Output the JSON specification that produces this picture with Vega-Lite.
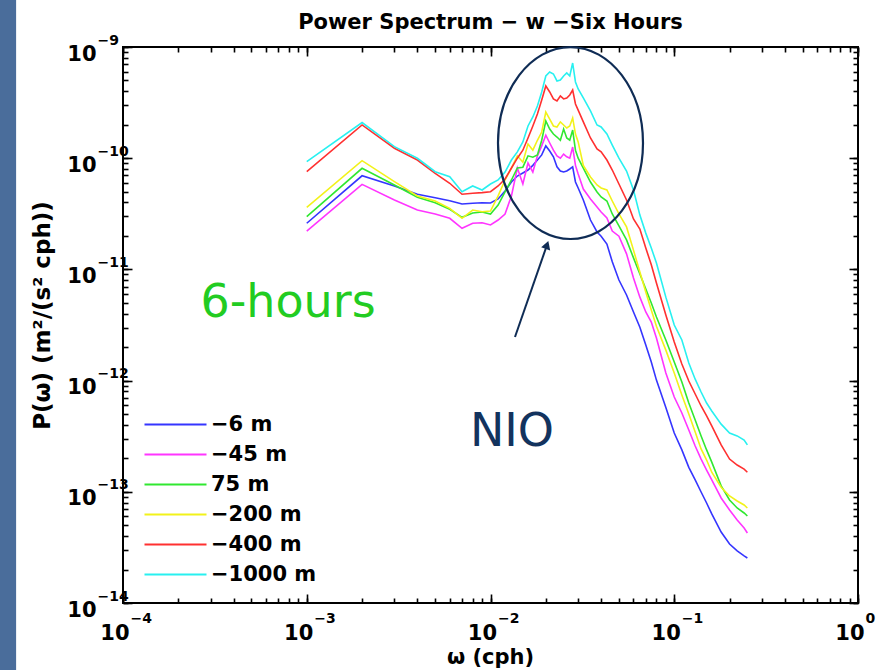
{
  "$schema": "https://vega.github.io/schema/vega-lite/v6.json",
  "width": 735,
  "height": 556,
  "autosize": {"type": "none"},
  "padding": {"left": 123, "top": 47, "right": 22, "bottom": 67},
  "background": "white",
  "config": {
    "view": {"stroke": "black", "strokeWidth": 2},
    "font": "DejaVu Sans",
    "axis": {"grid": false, "domain": false, "tickColor": "black", "tickWidth": 1.6, "labelColor": "black", "labelFont": "DejaVu Sans", "labelFontWeight": "bold", "labelOverlap": false, "labelFlush": false, "labelBound": false, "titleColor": "black", "titleFont": "DejaVu Sans"}
  },
  "title": {"text": "Power Spectrum − w −Six Hours", "fontSize": 21, "fontWeight": "bold", "font": "DejaVu Sans", "color": "black", "anchor": "middle", "offset": 14, "dy": 47},
  "datasets": {
    "spec": [
      {"f":0.001,"p":2.60e-11,"s":"−6 m"},{"f":0.002,"p":6.95e-11,"s":"−6 m"},{"f":0.003,"p":5.63e-11,"s":"−6 m"},{"f":0.004,"p":4.74e-11,"s":"−6 m"},{"f":0.005,"p":4.41e-11,"s":"−6 m"},{"f":0.006,"p":4.15e-11,"s":"−6 m"},{"f":0.007,"p":3.87e-11,"s":"−6 m"},{"f":0.008,"p":3.93e-11,"s":"−6 m"},{"f":0.009,"p":3.98e-11,"s":"−6 m"},{"f":0.010,"p":3.95e-11,"s":"−6 m"},
      {"f":0.011,"p":4.30e-11,"s":"−6 m"},{"f":0.012,"p":5.07e-11,"s":"−6 m"},{"f":0.013,"p":6.11e-11,"s":"−6 m"},{"f":0.014,"p":6.91e-11,"s":"−6 m"},{"f":0.015,"p":7.36e-11,"s":"−6 m"},{"f":0.016,"p":7.83e-11,"s":"−6 m"},{"f":0.017,"p":8.62e-11,"s":"−6 m"},{"f":0.018,"p":9.63e-11,"s":"−6 m"},{"f":0.019,"p":1.07e-10,"s":"−6 m"},{"f":0.020,"p":1.29e-10,"s":"−6 m"},
      {"f":0.021,"p":1.16e-10,"s":"−6 m"},{"f":0.022,"p":1.03e-10,"s":"−6 m"},{"f":0.023,"p":8.37e-11,"s":"−6 m"},{"f":0.024,"p":7.67e-11,"s":"−6 m"},{"f":0.025,"p":7.51e-11,"s":"−6 m"},{"f":0.026,"p":7.67e-11,"s":"−6 m"},{"f":0.027,"p":8.00e-11,"s":"−6 m"},{"f":0.028,"p":8.37e-11,"s":"−6 m"},{"f":0.029,"p":6.11e-11,"s":"−6 m"},{"f":0.030,"p":5.40e-11,"s":"−6 m"},
      {"f":0.032,"p":4.21e-11,"s":"−6 m"},{"f":0.035,"p":2.78e-11,"s":"−6 m"},{"f":0.038,"p":2.17e-11,"s":"−6 m"},{"f":0.040,"p":1.99e-11,"s":"−6 m"},{"f":0.043,"p":1.69e-11,"s":"−6 m"},{"f":0.046,"p":1.17e-11,"s":"−6 m"},{"f":0.050,"p":8.03e-12,"s":"−6 m"},{"f":0.055,"p":5.89e-12,"s":"−6 m"},{"f":0.060,"p":4.14e-12,"s":"−6 m"},{"f":0.065,"p":3.02e-12,"s":"−6 m"},
      {"f":0.070,"p":2.09e-12,"s":"−6 m"},{"f":0.075,"p":1.47e-12,"s":"−6 m"},{"f":0.080,"p":1.01e-12,"s":"−6 m"},{"f":0.090,"p":5.74e-13,"s":"−6 m"},{"f":0.100,"p":3.38e-13,"s":"−6 m"},{"f":0.110,"p":2.38e-13,"s":"−6 m"},{"f":0.120,"p":1.66e-13,"s":"−6 m"},{"f":0.130,"p":1.28e-13,"s":"−6 m"},{"f":0.140,"p":9.96e-14,"s":"−6 m"},{"f":0.150,"p":7.93e-14,"s":"−6 m"},
      {"f":0.160,"p":6.32e-14,"s":"−6 m"},{"f":0.180,"p":4.35e-14,"s":"−6 m"},{"f":0.200,"p":3.39e-14,"s":"−6 m"},{"f":0.220,"p":2.94e-14,"s":"−6 m"},{"f":0.240,"p":2.65e-14,"s":"−6 m"},{"f":0.250,"p":2.54e-14,"s":"−6 m"},

      {"f":0.001,"p":2.21e-11,"s":"−45 m"},{"f":0.002,"p":5.82e-11,"s":"−45 m"},{"f":0.003,"p":4.21e-11,"s":"−45 m"},{"f":0.004,"p":3.42e-11,"s":"−45 m"},{"f":0.005,"p":3.15e-11,"s":"−45 m"},{"f":0.006,"p":2.88e-11,"s":"−45 m"},{"f":0.007,"p":2.34e-11,"s":"−45 m"},{"f":0.008,"p":2.60e-11,"s":"−45 m"},{"f":0.009,"p":2.63e-11,"s":"−45 m"},{"f":0.010,"p":2.51e-11,"s":"−45 m"},
      {"f":0.011,"p":2.78e-11,"s":"−45 m"},{"f":0.012,"p":3.15e-11,"s":"−45 m"},{"f":0.013,"p":4.58e-11,"s":"−45 m"},{"f":0.014,"p":8.16e-11,"s":"−45 m"},{"f":0.015,"p":5.86e-11,"s":"−45 m"},{"f":0.016,"p":9.05e-11,"s":"−45 m"},{"f":0.017,"p":7.51e-11,"s":"−45 m"},{"f":0.018,"p":1.05e-10,"s":"−45 m"},{"f":0.019,"p":1.29e-10,"s":"−45 m"},{"f":0.020,"p":1.61e-10,"s":"−45 m"},
      {"f":0.021,"p":1.37e-10,"s":"−45 m"},{"f":0.022,"p":1.18e-10,"s":"−45 m"},{"f":0.023,"p":1.05e-10,"s":"−45 m"},{"f":0.024,"p":1.00e-10,"s":"−45 m"},{"f":0.025,"p":1.09e-10,"s":"−45 m"},{"f":0.026,"p":1.03e-10,"s":"−45 m"},{"f":0.027,"p":1.00e-10,"s":"−45 m"},{"f":0.028,"p":1.26e-10,"s":"−45 m"},{"f":0.029,"p":8.62e-11,"s":"−45 m"},{"f":0.030,"p":7.21e-11,"s":"−45 m"},
      {"f":0.032,"p":5.28e-11,"s":"−45 m"},{"f":0.035,"p":4.30e-11,"s":"−45 m"},{"f":0.038,"p":3.64e-11,"s":"−45 m"},{"f":0.040,"p":3.28e-11,"s":"−45 m"},{"f":0.043,"p":2.90e-11,"s":"−45 m"},{"f":0.046,"p":2.21e-11,"s":"−45 m"},{"f":0.050,"p":1.99e-11,"s":"−45 m"},{"f":0.055,"p":1.38e-11,"s":"−45 m"},{"f":0.060,"p":8.37e-12,"s":"−45 m"},{"f":0.065,"p":5.63e-12,"s":"−45 m"},
      {"f":0.070,"p":4.14e-12,"s":"−45 m"},{"f":0.075,"p":3.36e-12,"s":"−45 m"},{"f":0.080,"p":2.42e-12,"s":"−45 m"},{"f":0.090,"p":1.17e-12,"s":"−45 m"},{"f":0.100,"p":7.12e-13,"s":"−45 m"},{"f":0.110,"p":5.11e-13,"s":"−45 m"},{"f":0.120,"p":3.60e-13,"s":"−45 m"},{"f":0.130,"p":2.58e-13,"s":"−45 m"},{"f":0.140,"p":1.97e-13,"s":"−45 m"},{"f":0.150,"p":1.57e-13,"s":"−45 m"},
      {"f":0.160,"p":1.28e-13,"s":"−45 m"},{"f":0.180,"p":8.80e-14,"s":"−45 m"},{"f":0.200,"p":6.86e-14,"s":"−45 m"},{"f":0.220,"p":5.58e-14,"s":"−45 m"},{"f":0.240,"p":4.73e-14,"s":"−45 m"},{"f":0.250,"p":4.26e-14,"s":"−45 m"},

      {"f":0.001,"p":2.98e-11,"s":"75 m"},{"f":0.002,"p":8.11e-11,"s":"75 m"},{"f":0.003,"p":5.74e-11,"s":"75 m"},{"f":0.004,"p":4.45e-11,"s":"75 m"},{"f":0.005,"p":3.98e-11,"s":"75 m"},{"f":0.006,"p":3.47e-11,"s":"75 m"},{"f":0.007,"p":2.94e-11,"s":"75 m"},{"f":0.008,"p":3.21e-11,"s":"75 m"},{"f":0.009,"p":3.28e-11,"s":"75 m"},{"f":0.010,"p":3.15e-11,"s":"75 m"},
      {"f":0.011,"p":3.79e-11,"s":"75 m"},{"f":0.012,"p":4.97e-11,"s":"75 m"},{"f":0.013,"p":6.37e-11,"s":"75 m"},{"f":0.014,"p":8.16e-11,"s":"75 m"},{"f":0.015,"p":8.30e-11,"s":"75 m"},{"f":0.016,"p":1.05e-10,"s":"75 m"},{"f":0.017,"p":1.02e-10,"s":"75 m"},{"f":0.018,"p":1.07e-10,"s":"75 m"},{"f":0.019,"p":1.45e-10,"s":"75 m"},{"f":0.020,"p":2.16e-10,"s":"75 m"},
      {"f":0.021,"p":1.83e-10,"s":"75 m"},{"f":0.022,"p":1.65e-10,"s":"75 m"},{"f":0.023,"p":1.55e-10,"s":"75 m"},{"f":0.024,"p":1.45e-10,"s":"75 m"},{"f":0.025,"p":1.83e-10,"s":"75 m"},{"f":0.026,"p":1.52e-10,"s":"75 m"},{"f":0.027,"p":1.45e-10,"s":"75 m"},{"f":0.028,"p":1.79e-10,"s":"75 m"},{"f":0.029,"p":1.18e-10,"s":"75 m"},{"f":0.030,"p":1.00e-10,"s":"75 m"},
      {"f":0.032,"p":8.16e-11,"s":"75 m"},{"f":0.035,"p":6.11e-11,"s":"75 m"},{"f":0.038,"p":4.97e-11,"s":"75 m"},{"f":0.040,"p":4.48e-11,"s":"75 m"},{"f":0.043,"p":4.12e-11,"s":"75 m"},{"f":0.046,"p":3.15e-11,"s":"75 m"},{"f":0.050,"p":2.46e-11,"s":"75 m"},{"f":0.055,"p":1.84e-11,"s":"75 m"},{"f":0.060,"p":1.27e-11,"s":"75 m"},{"f":0.065,"p":9.09e-12,"s":"75 m"},
      {"f":0.070,"p":6.66e-12,"s":"75 m"},{"f":0.075,"p":4.99e-12,"s":"75 m"},{"f":0.080,"p":3.73e-12,"s":"75 m"},{"f":0.090,"p":2.32e-12,"s":"75 m"},{"f":0.100,"p":1.47e-12,"s":"75 m"},{"f":0.110,"p":9.71e-13,"s":"75 m"},{"f":0.120,"p":6.29e-13,"s":"75 m"},{"f":0.130,"p":4.42e-13,"s":"75 m"},{"f":0.140,"p":3.18e-13,"s":"75 m"},{"f":0.150,"p":2.38e-13,"s":"75 m"},
      {"f":0.160,"p":1.85e-13,"s":"75 m"},{"f":0.180,"p":1.13e-13,"s":"75 m"},{"f":0.200,"p":8.44e-14,"s":"75 m"},{"f":0.220,"p":7.15e-14,"s":"75 m"},{"f":0.240,"p":6.45e-14,"s":"75 m"},{"f":0.250,"p":6.06e-14,"s":"75 m"},

      {"f":0.001,"p":3.62e-11,"s":"−200 m"},{"f":0.002,"p":9.50e-11,"s":"−200 m"},{"f":0.003,"p":6.15e-11,"s":"−200 m"},{"f":0.004,"p":4.58e-11,"s":"−200 m"},{"f":0.005,"p":4.12e-11,"s":"−200 m"},{"f":0.006,"p":3.54e-11,"s":"−200 m"},{"f":0.007,"p":2.88e-11,"s":"−200 m"},{"f":0.008,"p":3.42e-11,"s":"−200 m"},{"f":0.009,"p":3.30e-11,"s":"−200 m"},{"f":0.010,"p":3.35e-11,"s":"−200 m"},
      {"f":0.011,"p":4.58e-11,"s":"−200 m"},{"f":0.012,"p":6.37e-11,"s":"−200 m"},{"f":0.013,"p":8.16e-11,"s":"−200 m"},{"f":0.014,"p":1.05e-10,"s":"−200 m"},{"f":0.015,"p":9.20e-11,"s":"−200 m"},{"f":0.016,"p":1.34e-10,"s":"−200 m"},{"f":0.017,"p":1.18e-10,"s":"−200 m"},{"f":0.018,"p":1.45e-10,"s":"−200 m"},{"f":0.019,"p":1.72e-10,"s":"−200 m"},{"f":0.020,"p":2.60e-10,"s":"−200 m"},
      {"f":0.021,"p":2.25e-10,"s":"−200 m"},{"f":0.022,"p":1.95e-10,"s":"−200 m"},{"f":0.023,"p":1.91e-10,"s":"−200 m"},{"f":0.024,"p":2.12e-10,"s":"−200 m"},{"f":0.025,"p":1.99e-10,"s":"−200 m"},{"f":0.026,"p":1.87e-10,"s":"−200 m"},{"f":0.027,"p":1.95e-10,"s":"−200 m"},{"f":0.028,"p":2.30e-10,"s":"−200 m"},{"f":0.029,"p":1.65e-10,"s":"−200 m"},{"f":0.030,"p":1.40e-10,"s":"−200 m"},
      {"f":0.032,"p":8.62e-11,"s":"−200 m"},{"f":0.035,"p":6.78e-11,"s":"−200 m"},{"f":0.038,"p":5.74e-11,"s":"−200 m"},{"f":0.040,"p":5.40e-11,"s":"−200 m"},{"f":0.043,"p":5.18e-11,"s":"−200 m"},{"f":0.046,"p":4.12e-11,"s":"−200 m"},{"f":0.050,"p":3.15e-11,"s":"−200 m"},{"f":0.055,"p":2.41e-11,"s":"−200 m"},{"f":0.060,"p":1.49e-11,"s":"−200 m"},{"f":0.065,"p":9.48e-12,"s":"−200 m"},
      {"f":0.070,"p":6.26e-12,"s":"−200 m"},{"f":0.075,"p":4.31e-12,"s":"−200 m"},{"f":0.080,"p":3.08e-12,"s":"−200 m"},{"f":0.090,"p":1.88e-12,"s":"−200 m"},{"f":0.100,"p":1.17e-12,"s":"−200 m"},{"f":0.110,"p":7.42e-13,"s":"−200 m"},{"f":0.120,"p":5.01e-13,"s":"−200 m"},{"f":0.130,"p":3.45e-13,"s":"−200 m"},{"f":0.140,"p":2.43e-13,"s":"−200 m"},{"f":0.150,"p":1.93e-13,"s":"−200 m"},
      {"f":0.160,"p":1.50e-13,"s":"−200 m"},{"f":0.180,"p":1.10e-13,"s":"−200 m"},{"f":0.200,"p":9.17e-14,"s":"−200 m"},{"f":0.220,"p":8.27e-14,"s":"−200 m"},{"f":0.240,"p":7.61e-14,"s":"−200 m"},{"f":0.250,"p":7.15e-14,"s":"−200 m"},

      {"f":0.001,"p":7.56e-11,"s":"−400 m"},{"f":0.002,"p":1.99e-10,"s":"−400 m"},{"f":0.003,"p":1.23e-10,"s":"−400 m"},{"f":0.004,"p":9.63e-11,"s":"−400 m"},{"f":0.005,"p":7.31e-11,"s":"−400 m"},{"f":0.006,"p":5.95e-11,"s":"−400 m"},{"f":0.007,"p":4.74e-11,"s":"−400 m"},{"f":0.008,"p":4.84e-11,"s":"−400 m"},{"f":0.009,"p":4.90e-11,"s":"−400 m"},{"f":0.010,"p":5.00e-11,"s":"−400 m"},
      {"f":0.011,"p":5.63e-11,"s":"−400 m"},{"f":0.012,"p":6.50e-11,"s":"−400 m"},{"f":0.013,"p":8.16e-11,"s":"−400 m"},{"f":0.014,"p":1.00e-10,"s":"−400 m"},{"f":0.015,"p":1.18e-10,"s":"−400 m"},{"f":0.016,"p":1.52e-10,"s":"−400 m"},{"f":0.017,"p":1.95e-10,"s":"−400 m"},{"f":0.018,"p":2.50e-10,"s":"−400 m"},{"f":0.019,"p":3.34e-10,"s":"−400 m"},{"f":0.020,"p":4.46e-10,"s":"−400 m"},
      {"f":0.021,"p":3.94e-10,"s":"−400 m"},{"f":0.022,"p":3.41e-10,"s":"−400 m"},{"f":0.023,"p":3.27e-10,"s":"−400 m"},{"f":0.024,"p":3.63e-10,"s":"−400 m"},{"f":0.025,"p":3.41e-10,"s":"−400 m"},{"f":0.026,"p":3.48e-10,"s":"−400 m"},{"f":0.027,"p":3.70e-10,"s":"−400 m"},{"f":0.028,"p":4.10e-10,"s":"−400 m"},{"f":0.029,"p":3.07e-10,"s":"−400 m"},{"f":0.030,"p":2.71e-10,"s":"−400 m"},
      {"f":0.032,"p":2.12e-10,"s":"−400 m"},{"f":0.035,"p":1.52e-10,"s":"−400 m"},{"f":0.038,"p":1.21e-10,"s":"−400 m"},{"f":0.040,"p":1.14e-10,"s":"−400 m"},{"f":0.043,"p":9.63e-11,"s":"−400 m"},{"f":0.046,"p":7.83e-11,"s":"−400 m"},{"f":0.050,"p":5.86e-11,"s":"−400 m"},{"f":0.055,"p":4.21e-11,"s":"−400 m"},{"f":0.060,"p":2.84e-11,"s":"−400 m"},{"f":0.065,"p":2.31e-11,"s":"−400 m"},
      {"f":0.070,"p":1.56e-11,"s":"−400 m"},{"f":0.075,"p":1.10e-11,"s":"−400 m"},{"f":0.080,"p":7.55e-12,"s":"−400 m"},{"f":0.090,"p":3.89e-12,"s":"−400 m"},{"f":0.100,"p":2.22e-12,"s":"−400 m"},{"f":0.110,"p":1.41e-12,"s":"−400 m"},{"f":0.120,"p":9.92e-13,"s":"−400 m"},{"f":0.130,"p":7.58e-13,"s":"−400 m"},{"f":0.140,"p":5.91e-13,"s":"−400 m"},{"f":0.150,"p":4.81e-13,"s":"−400 m"},
      {"f":0.160,"p":3.91e-13,"s":"−400 m"},{"f":0.180,"p":2.64e-13,"s":"−400 m"},{"f":0.200,"p":1.97e-13,"s":"−400 m"},{"f":0.220,"p":1.74e-13,"s":"−400 m"},{"f":0.240,"p":1.60e-13,"s":"−400 m"},{"f":0.250,"p":1.50e-13,"s":"−400 m"},

      {"f":0.001,"p":9.30e-11,"s":"−1000 m"},{"f":0.002,"p":2.09e-10,"s":"−1000 m"},{"f":0.003,"p":1.27e-10,"s":"−1000 m"},{"f":0.004,"p":9.98e-11,"s":"−1000 m"},{"f":0.005,"p":7.56e-11,"s":"−1000 m"},{"f":0.006,"p":6.82e-11,"s":"−1000 m"},{"f":0.007,"p":5.00e-11,"s":"−1000 m"},{"f":0.008,"p":5.63e-11,"s":"−1000 m"},{"f":0.009,"p":5.18e-11,"s":"−1000 m"},{"f":0.010,"p":5.86e-11,"s":"−1000 m"},
      {"f":0.011,"p":6.37e-11,"s":"−1000 m"},{"f":0.012,"p":7.51e-11,"s":"−1000 m"},{"f":0.013,"p":9.63e-11,"s":"−1000 m"},{"f":0.014,"p":1.14e-10,"s":"−1000 m"},{"f":0.015,"p":1.40e-10,"s":"−1000 m"},{"f":0.016,"p":1.95e-10,"s":"−1000 m"},{"f":0.017,"p":2.35e-10,"s":"−1000 m"},{"f":0.018,"p":2.95e-10,"s":"−1000 m"},{"f":0.019,"p":3.94e-10,"s":"−1000 m"},{"f":0.020,"p":5.49e-10,"s":"−1000 m"},
      {"f":0.021,"p":5.96e-10,"s":"−1000 m"},{"f":0.022,"p":5.72e-10,"s":"−1000 m"},{"f":0.023,"p":4.95e-10,"s":"−1000 m"},{"f":0.024,"p":5.05e-10,"s":"−1000 m"},{"f":0.025,"p":5.49e-10,"s":"−1000 m"},{"f":0.026,"p":5.84e-10,"s":"−1000 m"},{"f":0.027,"p":5.49e-10,"s":"−1000 m"},{"f":0.028,"p":7.18e-10,"s":"−1000 m"},{"f":0.029,"p":4.85e-10,"s":"−1000 m"},{"f":0.030,"p":4.19e-10,"s":"−1000 m"},
      {"f":0.032,"p":3.48e-10,"s":"−1000 m"},{"f":0.035,"p":2.66e-10,"s":"−1000 m"},{"f":0.038,"p":1.99e-10,"s":"−1000 m"},{"f":0.040,"p":1.91e-10,"s":"−1000 m"},{"f":0.043,"p":1.65e-10,"s":"−1000 m"},{"f":0.046,"p":1.31e-10,"s":"−1000 m"},{"f":0.050,"p":1.00e-10,"s":"−1000 m"},{"f":0.055,"p":7.67e-11,"s":"−1000 m"},{"f":0.060,"p":5.18e-11,"s":"−1000 m"},{"f":0.065,"p":3.08e-11,"s":"−1000 m"},
      {"f":0.070,"p":2.12e-11,"s":"−1000 m"},{"f":0.075,"p":1.56e-11,"s":"−1000 m"},{"f":0.080,"p":1.14e-11,"s":"−1000 m"},{"f":0.090,"p":5.63e-12,"s":"−1000 m"},{"f":0.100,"p":3.16e-12,"s":"−1000 m"},{"f":0.110,"p":2.32e-12,"s":"−1000 m"},{"f":0.120,"p":1.44e-12,"s":"−1000 m"},{"f":0.130,"p":1.03e-12,"s":"−1000 m"},{"f":0.140,"p":7.90e-13,"s":"−1000 m"},{"f":0.150,"p":6.29e-13,"s":"−1000 m"},
      {"f":0.160,"p":5.33e-13,"s":"−1000 m"},{"f":0.180,"p":4.06e-13,"s":"−1000 m"},{"f":0.200,"p":3.38e-13,"s":"−1000 m"},{"f":0.220,"p":3.18e-13,"s":"−1000 m"},{"f":0.240,"p":2.92e-13,"s":"−1000 m"},{"f":0.250,"p":2.64e-13,"s":"−1000 m"}
    ],
    "ellipse": [{"f": 0.02725, "p": 1.369e-10}],
    "arrow": [{"f": 0.01359, "p": 2.466e-12, "f2": 0.0203, "p2": 1.658e-11}],
    "label6h": [{"f": 0.000791, "p": 4.99e-12, "t": "6-hours"}],
    "labelNIO": [{"f": 0.01309, "p": 3.45e-13, "t": "NIO"}]
  },
  "layer": [
    {
      "data": {"values": [{}]},
      "mark": {"type": "rect", "fill": "#4a6d9b", "clip": false},
      "encoding": {
        "x": {"datum": 0.0000214, "type": "quantitative", "scale": {"type": "log", "domain": [0.0001, 1], "nice": false}, "axis": null},
        "x2": {"datum": 0.0000262},
        "y": {"datum": 2.65e-9, "type": "quantitative", "scale": {"type": "log", "domain": [1e-14, 1e-9], "nice": false}, "axis": null},
        "y2": {"datum": 2.5e-15}
      }
    },
    {
      "data": {"name": "spec"},
      "mark": {"type": "line", "strokeWidth": 1.6, "clip": true},
      "encoding": {
        "x": {"field": "f", "type": "quantitative", "scale": {"type": "log", "domain": [0.0001, 1], "nice": false},
          "axis": {"orient": "bottom", "values": [0.0001, 0.001, 0.01, 0.1, 1], "labelExpr": "'10'", "labelFontSize": 21, "labelAlign": "right", "labelOffset": 6, "labelBaseline": "middle", "labelPadding": 39, "tickSize": -9,
            "title": "ω (cph)", "titleFontSize": 21, "titleFontWeight": "bold", "titleX": 367, "titleY": 54, "titleBaseline": "middle", "titleAlign": "center"}},
        "y": {"field": "p", "type": "quantitative", "scale": {"type": "log", "domain": [1e-14, 1e-9], "nice": false},
          "axis": {"orient": "left", "values": [1e-14, 1e-13, 1e-12, 1e-11, 1e-10, 1e-9], "labelExpr": "'10'", "labelFontSize": 21, "labelAlign": "right", "labelBaseline": "middle", "labelOffset": 7, "labelPadding": 36, "tickSize": -9,
            "title": "P(ω) (m²/(s² cph))", "titleFontSize": 23, "titleFontWeight": "bold", "titleX": -81, "titleY": 268, "titleAngle": -90, "titleAlign": "center", "titleBaseline": "middle"}},
        "color": {"field": "s", "type": "nominal",
          "scale": {"domain": ["−6 m", "−45 m", "75 m", "−200 m", "−400 m", "−1000 m"], "range": ["#3535ff", "#ff35ff", "#30e830", "#f2f21a", "#ff3030", "#28f0f0"]},
          "legend": {"title": null, "orient": "none", "legendX": 42, "legendY": 367, "padding": 0, "symbolType": "M-6.2,0H6.2", "symbolSize": 100, "symbolStrokeWidth": 1.8, "labelFontSize": 21, "labelFontWeight": "bold", "labelFont": "DejaVu Sans", "labelColor": "black", "labelOffset": 25, "rowPadding": 8, "labelLimit": 300}}
      }
    },
    {
      "data": {"name": "ellipse"},
      "mark": {"type": "point", "shape": "M-1,0A1,1.324,0,1,1,1,0A1,1.324,0,1,1,-1,0Z", "size": 21025, "filled": false, "color": "#0f2c55", "strokeWidth": 2.2, "opacity": 1},
      "encoding": {
        "x": {"field": "f", "type": "quantitative", "scale": {"type": "log", "domain": [0.0001, 1], "nice": false},
          "axis": {"orient": "bottom", "values": [0.0001,0.0002,0.0003,0.0004,0.0005,0.0006,0.0007,0.0008,0.0009,0.001,0.002,0.003,0.004,0.005,0.006,0.007,0.008,0.009,0.01,0.02,0.03,0.04,0.05,0.06,0.07,0.08,0.09,0.1,0.2,0.3,0.4,0.5,0.6,0.7,0.8,0.9,1],
            "labelExpr": "abs(log(datum.value)/LN10 - round(log(datum.value)/LN10)) < 0.001 ? (round(log(datum.value)/LN10) < 0 ? '−' + (-round(log(datum.value)/LN10)) : '' + round(log(datum.value)/LN10)) : ''",
            "labelFontSize": 14, "labelAlign": "left", "labelOffset": 7, "labelBaseline": "middle", "labelPadding": 20, "tickSize": -5, "title": null}},
        "y": {"field": "p", "type": "quantitative", "scale": {"type": "log", "domain": [1e-14, 1e-9], "nice": false},
          "axis": {"orient": "left", "values": [1e-14,2e-14,3e-14,4e-14,5e-14,6e-14,7e-14,8e-14,9e-14,1e-13,2e-13,3e-13,4e-13,5e-13,6e-13,7e-13,8e-13,9e-13,1e-12,2e-12,3e-12,4e-12,5e-12,6e-12,7e-12,8e-12,9e-12,1e-11,2e-11,3e-11,4e-11,5e-11,6e-11,7e-11,8e-11,9e-11,1e-10,2e-10,3e-10,4e-10,5e-10,6e-10,7e-10,8e-10,9e-10,1e-9],
            "labelExpr": "abs(log(datum.value)/LN10 - round(log(datum.value)/LN10)) < 0.001 ? (round(log(datum.value)/LN10) < 0 ? '−' + (-round(log(datum.value)/LN10)) : '' + round(log(datum.value)/LN10)) : ''",
            "labelFontSize": 14, "labelAlign": "left", "labelBaseline": "middle", "labelOffset": -7, "labelPadding": 31, "tickSize": -5, "title": null}}
      }
    },
    {
      "data": {"name": "arrow"},
      "mark": {"type": "rule", "color": "#0f2c55", "strokeWidth": 2},
      "encoding": {
        "x": {"field": "f", "type": "quantitative", "scale": {"type": "log", "domain": [0.0001, 1], "nice": false},
          "axis": {"orient": "top", "values": [0.0001,0.0002,0.0003,0.0004,0.0005,0.0006,0.0007,0.0008,0.0009,0.001,0.002,0.003,0.004,0.005,0.006,0.007,0.008,0.009,0.01,0.02,0.03,0.04,0.05,0.06,0.07,0.08,0.09,0.1,0.2,0.3,0.4,0.5,0.6,0.7,0.8,0.9,1], "labels": false, "tickSize": -5, "title": null}},
        "x2": {"field": "f2"},
        "y": {"field": "p", "type": "quantitative", "scale": {"type": "log", "domain": [1e-14, 1e-9], "nice": false},
          "axis": {"orient": "right", "values": [1e-14,2e-14,3e-14,4e-14,5e-14,6e-14,7e-14,8e-14,9e-14,1e-13,2e-13,3e-13,4e-13,5e-13,6e-13,7e-13,8e-13,9e-13,1e-12,2e-12,3e-12,4e-12,5e-12,6e-12,7e-12,8e-12,9e-12,1e-11,2e-11,3e-11,4e-11,5e-11,6e-11,7e-11,8e-11,9e-11,1e-10,2e-10,3e-10,4e-10,5e-10,6e-10,7e-10,8e-10,9e-10,1e-9], "labels": false, "tickSize": -5, "title": null}},
        "y2": {"field": "p2"}
      }
    },
    {
      "data": {"name": "arrow"},
      "mark": {"type": "point", "shape": "triangle-up", "filled": true, "color": "#0f2c55", "size": 90, "angle": 19, "opacity": 1},
      "encoding": {
        "x": {"field": "f2", "type": "quantitative", "scale": {"type": "log", "domain": [0.0001, 1], "nice": false},
          "axis": {"orient": "top", "values": [0.0001, 0.001, 0.01, 0.1, 1], "labels": false, "tickSize": -9, "title": null}},
        "y": {"field": "p2", "type": "quantitative", "scale": {"type": "log", "domain": [1e-14, 1e-9], "nice": false},
          "axis": {"orient": "right", "values": [1e-14, 1e-13, 1e-12, 1e-11, 1e-10, 1e-9], "labels": false, "tickSize": -9, "title": null}}
      }
    },
    {
      "data": {"name": "label6h"},
      "mark": {"type": "text", "font": "DejaVu Sans", "fontSize": 46, "align": "center", "baseline": "middle", "color": "#22cc22"},
      "encoding": {
        "x": {"field": "f", "type": "quantitative", "scale": {"type": "log", "domain": [0.0001, 1], "nice": false}, "axis": null},
        "y": {"field": "p", "type": "quantitative", "scale": {"type": "log", "domain": [1e-14, 1e-9], "nice": false}, "axis": null},
        "text": {"field": "t"}
      }
    },
    {
      "data": {"name": "labelNIO"},
      "mark": {"type": "text", "font": "DejaVu Sans", "fontSize": 46, "align": "center", "baseline": "middle", "color": "#13335e"},
      "encoding": {
        "x": {"field": "f", "type": "quantitative", "scale": {"type": "log", "domain": [0.0001, 1], "nice": false}, "axis": null},
        "y": {"field": "p", "type": "quantitative", "scale": {"type": "log", "domain": [1e-14, 1e-9], "nice": false}, "axis": null},
        "text": {"field": "t"}
      }
    }
  ],
  "resolve": {"axis": {"x": "independent", "y": "independent"}}
}
